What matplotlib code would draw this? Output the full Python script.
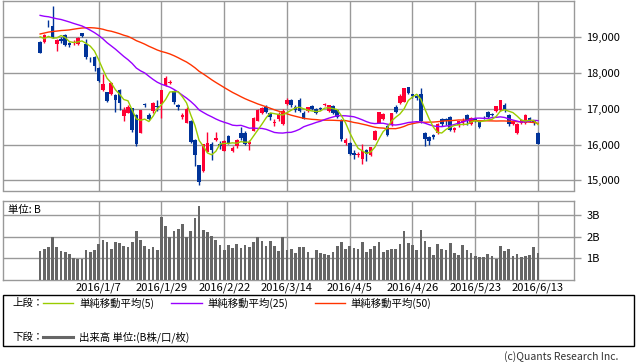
import matplotlib
matplotlib.use('Agg')
import matplotlib.pyplot as plt
import numpy as np
import pandas as pd
from matplotlib.patches import Rectangle
from matplotlib.lines import Line2D
from matplotlib.ticker import FuncFormatter

plt.rcParams['font.family'] = ['Noto Sans CJK JP', 'DejaVu Sans']

# ---------------- data ----------------
holidays = ['2015-12-23', '2015-12-31', '2016-01-01', '2016-01-11', '2016-02-11',
            '2016-03-21', '2016-04-29', '2016-05-03', '2016-05-04', '2016-05-05']
dates = pd.bdate_range('2015-12-15', '2016-06-13', freq='C', holidays=holidays)
date_labels = [f"{d.year}/{d.month}/{d.day}" for d in dates]
tick_labels = ['2016/1/7', '2016/1/29', '2016/2/22', '2016/3/14',
               '2016/4/5', '2016/4/26', '2016/5/23', '2016/6/13']

# closes before the visible window (needed for the moving averages)
prior_closes = [17725, 18005, 18186, 18323, 18141, 18439, 18235, 17891, 18097, 18292,
                18131, 18207, 18554, 18436, 18825, 18947, 18777, 18903, 18936, 19083,
                18683, 19116, 19266, 19266, 19643, 19671, 19698, 19697, 19597, 19394,
                19650, 19649, 19860, 19880, 19925, 19848, 19944, 19884, 19747,
                20012, 19938, 19940, 19504, 19698, 19493, 19301, 19047, 19230, 18883]

opens = [18870, 18850, 19370, 19300, 18810, 18940, 19050, 18840, 18830, 18810,
         19100, 18818, 18400, 18450, 18139, 17510, 17470, 17410, 17390, 17520,
         16800, 16890, 17010, 16830, 16330, 17140, 16830, 16930, 17080, 17130,
         17660, 17710, 17500, 17100, 16760, 16610, 16660, 16120, 15420, 15250,
         15800, 16030, 16120, 16030, 15830, 16230, 15820, 15950, 16310, 16320,
         16010, 16390, 16670, 16870, 17040, 16870, 16600, 16700, 16580, 17130,
         17250, 17040, 17240, 16890, 16940, 17080, 16985, 17030, 17100, 16940,
         17070, 16960, 16690, 16050, 16050, 15770, 15700, 15610, 15850, 15710,
         16140, 16610, 16700, 16510, 16540, 17035, 17150, 17190, 17600, 17400,
         17360, 17420, 16330, 16210, 16260, 16310, 16700, 16720, 16770, 16400,
         16540, 16605, 16820, 16570, 16720, 16640, 16780, 16900, 16860, 16940,
         16960, 17100, 16820, 16570, 16310, 16600, 16590, 16730, 16660, 16320]
highs = [18880, 19090, 19480, 19870, 18950, 18990, 19080, 18870, 18920, 18990,
         19120, 18951, 18450, 18470, 18150, 17975, 17480, 17750, 17420, 17550,
         17050, 17090, 17020, 16840, 16970, 17170, 16870, 17200, 17240, 17530,
         17900, 17800, 17520, 17130, 16870, 17040, 16680, 16150, 15430, 16030,
         16350, 16060, 16350, 16090, 16140, 16270, 15960, 16150, 16490, 16380,
         16140, 16780, 16980, 17050, 17100, 16890, 16700, 16900, 17000, 17290,
         17260, 17100, 17300, 16950, 17060, 17110, 17020, 17050, 17160, 17110,
         17100, 16990, 16720, 16170, 16070, 15840, 15800, 16010, 15880, 15940,
         16400, 16920, 16880, 16550, 16890, 17090, 17400, 17580, 17610, 17420,
         17400, 17570, 16350, 16240, 16290, 16590, 16730, 16750, 16800, 16500,
         16660, 16730, 16850, 16760, 16750, 16660, 16800, 16950, 16880, 17080,
         17250, 17160, 16850, 16690, 16590, 16700, 16850, 16760, 16680, 16340]
lows = [18540, 18830, 19290, 18970, 18620, 18830, 18760, 18730, 18780, 18790,
        19000, 18394, 18300, 18050, 17740, 17500, 17180, 17380, 16900, 16960,
        16670, 16870, 16360, 15970, 16310, 17050, 16680, 16890, 16950, 16750,
        17640, 17690, 17140, 16970, 16700, 16600, 16050, 15390, 14865, 15240,
        15780, 15580, 16100, 15880, 15810, 16010, 15780, 15900, 16140, 16000,
        15840, 16370, 16660, 16850, 16880, 16680, 16520, 16650, 16560, 17100,
        17050, 16920, 16900, 16700, 16900, 16970, 16840, 16960, 17080, 16920,
        16860, 16740, 16110, 16000, 15700, 15600, 15660, 15470, 15550, 15690,
        16130, 16600, 16690, 16230, 16530, 16880, 17130, 17180, 17400, 17300,
        17250, 16600, 15960, 15980, 16150, 16290, 16530, 16560, 16390, 16340,
        16500, 16560, 16560, 16560, 16620, 16460, 16700, 16740, 16800, 16920,
        16950, 16920, 16530, 16550, 16290, 16580, 16570, 16620, 16560, 16010]
closes = [18566, 19050, 19354, 18987, 18916, 18887, 18790, 18769, 18873, 18982,
          19034, 18451, 18374, 18191, 17767, 17698, 17219, 17716, 17241, 17147,
          16956, 17048, 16416, 16017, 16959, 17111, 16709, 17164, 17041, 17518,
          17865, 17751, 17191, 17045, 16820, 17004, 16085, 15713, 14953, 16023,
          16054, 15836, 16197, 15967, 16111, 16052, 15916, 16140, 16188, 16027,
          16085, 16747, 16960, 17015, 16911, 16783, 16642, 16852, 16939, 17234,
          17117, 16974, 16936, 16725, 17049, 17001, 16892, 17003, 17134, 17104,
          16879, 16759, 16164, 16123, 15733, 15715, 15750, 15822, 15751, 15929,
          16381, 16911, 16848, 16276, 16874, 16906, 17364, 17572, 17439, 17353,
          17290, 16666, 16147, 16107, 16216, 16565, 16579, 16646, 16412, 16466,
          16652, 16645, 16646, 16736, 16654, 16498, 16757, 16772, 16834, 17068,
          17235, 16955, 16562, 16642, 16580, 16675, 16831, 16668, 16601, 16019]
volume_b = [1.35, 1.44, 1.53, 1.98, 1.53, 1.35, 1.30, 1.21, 1.02, 0.98,
            0.98, 1.40, 1.30, 1.40, 1.67, 1.86, 1.77, 1.44, 1.77, 1.72,
            1.58, 1.53, 1.77, 2.28, 1.86, 1.58, 1.44, 1.53, 1.40, 2.93,
            2.47, 2.00, 2.28, 2.37, 2.60, 2.00, 2.28, 2.84, 3.40, 2.33,
            2.23, 2.05, 1.86, 1.63, 1.40, 1.63, 1.49, 1.67, 1.49, 1.63,
            1.53, 1.77, 2.00, 1.81, 1.58, 1.81, 1.58, 1.35, 2.00, 1.40,
            1.44, 1.26, 1.53, 1.53, 1.30, 1.02, 1.40,
            1.26, 1.21, 1.16, 1.30, 1.58, 1.77, 1.44, 1.58, 1.49, 1.44,
            1.77, 1.30, 1.44, 1.58, 1.77, 1.30, 1.40, 1.44, 1.44, 1.67,
            2.28, 1.72, 1.63, 1.40, 2.33, 1.81, 1.53, 1.16, 1.67, 1.44,
            1.40, 1.72, 1.26, 1.16, 1.63, 1.40, 1.26, 1.12, 1.07, 1.07,
            1.21, 1.12, 0.98, 1.58, 1.35, 1.44, 1.12, 1.21, 1.07, 1.12,
            1.16, 1.53, 1.26]

price_ticks = [15000, 16000, 17000, 18000, 19000]
vol_ticks = [1, 2, 3]
vol_tick_labels = ['1B', '2B', '3B']

# ---------------- styles ----------------
UP = '#ff0033'
DOWN = '#003399'
GRID = '#999999'
C5, C25, C50 = '#99cc00', '#9900ff', '#ff3300'
VOLC = '#666666'

W, H = 638, 362
fig = plt.figure(figsize=(W / 100, H / 100), dpi=100)
fig.patch.set_facecolor('white')


def rect(l, t, r, b):
    return [l / W, 1 - b / H, (r - l) / W, (b - t) / H]


ax = fig.add_axes(rect(3, 0.5, 574, 190.5))
axv = fig.add_axes(rect(3, 201, 574, 280))

n = len(closes)
x = np.arange(n)
xpos = {lab: i for i, lab in enumerate(date_labels)}
ticks_x = [xpos[t] for t in tick_labels]

o = np.array(opens, float)
h = np.array(highs, float)
l = np.array(lows, float)
c = np.array(closes, float)
up = c >= o
cols = np.where(up, UP, DOWN)

ax.vlines(x, l, h, colors=cols, linewidth=1, zorder=3)
body = np.abs(c - o)
body = np.maximum(body, 8)
ax.bar(x, body, bottom=np.minimum(o, c), width=0.85, color=cols, linewidth=0, zorder=3)

allc = pd.Series(list(prior_closes) + list(closes), dtype=float)
k = len(prior_closes)
ma5 = allc.rolling(5).mean().iloc[k:].values
ma25 = allc.rolling(25).mean().iloc[k:].values
ma50 = allc.rolling(50).mean().iloc[k:].values
ax.plot(x, ma50, color=C50, lw=1, zorder=4)
ax.plot(x, ma25, color=C25, lw=1, zorder=4)
ax.plot(x, ma5, color=C5, lw=1, zorder=4)

xlim = (-8.87, 127.6)
for a in (ax, axv):
    a.set_xlim(*xlim)
    a.set_xticks(ticks_x)
    a.grid(True, color=GRID, linewidth=1, zorder=0)
    a.set_axisbelow(True)
    for s in a.spines.values():
        s.set_color(GRID)
        s.set_linewidth(1)
    a.yaxis.tick_right()
    a.tick_params(axis='y', which='both', direction='out', length=5, color=GRID,
                  width=1, labelsize=8, pad=4, left=False, right=True,
                  labelleft=False, labelright=True)
    a.tick_params(axis='x', length=0)

ax.set_ylim(14720, 20017)
ax.set_yticks(price_ticks)
ax.yaxis.set_major_formatter(FuncFormatter(lambda v, p: f"{int(v):,}"))
ax.tick_params(axis='x', labelbottom=False)

axv.bar(x, volume_b, width=0.65, color=VOLC, linewidth=0, zorder=3)
axv.set_ylim(0, 3.646)
axv.set_yticks(vol_ticks)
axv.set_yticklabels(vol_tick_labels)
axv.set_xticklabels(tick_labels, fontsize=8)
axv.tick_params(axis='x', pad=2)

fig.text(8 / W, 1 - 210 / H, '単位: B', fontsize=7.5, va='center', ha='left')

# legend box
fig.add_artist(Rectangle((3 / W, 1 - 346 / H), 631 / W, 51 / H, transform=fig.transFigure,
                         fill=False, edgecolor='black', linewidth=1))


def ftxt(px, py, s, **kw):
    fig.text(px / W, 1 - py / H, s, fontsize=7.5, va='center', **kw)


def fline(x0, x1, py, color, lw):
    fig.add_artist(Line2D([x0 / W, x1 / W], [1 - py / H, 1 - py / H],
                          transform=fig.transFigure, color=color, linewidth=lw))


ftxt(12, 303, '上段：')
fline(43, 73, 303, C5, 1)
ftxt(79, 303, '単純移動平均(5)')
fline(171, 202, 303, C25, 1)
ftxt(207, 303, '単純移動平均(25)')
fline(315, 345, 303, C50, 1)
ftxt(350, 303, '単純移動平均(50)')
ftxt(12, 337, '下段：')
fline(43, 73, 337, VOLC, 2.2)
ftxt(79, 337, '出来高 単位:(B株/口/枚)')
ftxt(618, 357, '(c)Quants Research Inc.', ha='right', color='#333333')

fig.savefig('out.png', dpi=100)
